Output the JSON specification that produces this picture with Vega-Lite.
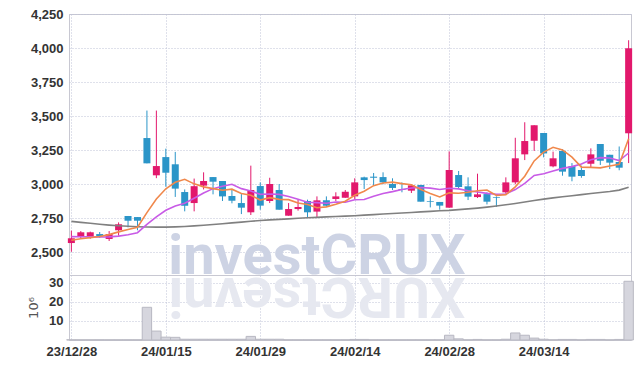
{
  "$schema": "https://vega.github.io/schema/vega-lite/v6.json",
  "padding": {"left": 27, "top": 7, "right": 5, "bottom": 2},
  "spacing": 0,
  "bounds": "flush",
  "background": "white",
  "datasets": {
    "k": [
      {"d":"23/12/28","o":2566,"h":2657,"l":2502,"c":2601,"v":0.1,"m5":2586,"m10":2613,"mL":2725},
      {"d":"24/01/02","o":2610,"h":2654,"l":2601,"c":2645,"v":0.1,"m5":2597,"m10":2612,"mL":2718},
      {"d":"24/01/03","o":2610,"h":2650,"l":2598,"c":2645,"v":0.1,"m5":2606,"m10":2611,"mL":2711},
      {"d":"24/01/04","o":2632,"h":2647,"l":2604,"c":2615,"v":0.1,"m5":2614,"m10":2610,"mL":2704},
      {"d":"24/01/05","o":2596,"h":2654,"l":2581,"c":2632,"v":0.1,"m5":2628,"m10":2611,"mL":2698},
      {"d":"24/01/08","o":2660,"h":2718,"l":2620,"c":2704,"v":0.1,"m5":2648,"m10":2617,"mL":2693},
      {"d":"24/01/09","o":2765,"h":2765,"l":2681,"c":2730,"v":0.1,"m5":2665,"m10":2627,"mL":2689},
      {"d":"24/01/10","o":2757,"h":2757,"l":2660,"c":2730,"v":0.1,"m5":2682,"m10":2642,"mL":2686},
      {"d":"24/01/11","o":3338,"h":3540,"l":3152,"c":3152,"v":17.2,"m5":2790,"m10":2703,"mL":2684},
      {"d":"24/01/12","o":3064,"h":3540,"l":3043,"c":3132,"v":4.7,"m5":2890,"m10":2759,"mL":2683},
      {"d":"24/01/15","o":3198,"h":3260,"l":2980,"c":3083,"v":1.5,"m5":2965,"m10":2807,"mL":2683},
      {"d":"24/01/16","o":3145,"h":3236,"l":2905,"c":2966,"v":1.4,"m5":3013,"m10":2839,"mL":2685},
      {"d":"24/01/17","o":2941,"h":2960,"l":2799,"c":2840,"v":0.4,"m5":3035,"m10":2858,"mL":2688},
      {"d":"24/01/18","o":2860,"h":3040,"l":2799,"c":2984,"v":0.4,"m5":3001,"m10":2895,"mL":2692},
      {"d":"24/01/19","o":2988,"h":3086,"l":2960,"c":3022,"v":0.4,"m5":2979,"m10":2934,"mL":2697},
      {"d":"24/01/22","o":3051,"h":3051,"l":2924,"c":3017,"v":0.4,"m5":2966,"m10":2966,"mL":2702},
      {"d":"24/01/23","o":3022,"h":3022,"l":2875,"c":2909,"v":0.4,"m5":2954,"m10":2984,"mL":2708},
      {"d":"24/01/24","o":2912,"h":2963,"l":2858,"c":2877,"v":0.4,"m5":2962,"m10":2998,"mL":2714},
      {"d":"24/01/25","o":2860,"h":2926,"l":2779,"c":2826,"v":0.4,"m5":2930,"m10":2966,"mL":2720},
      {"d":"24/01/26","o":2792,"h":3135,"l":2772,"c":2956,"v":1.9,"m5":2917,"m10":2948,"mL":2726},
      {"d":"24/01/29","o":2985,"h":3012,"l":2811,"c":2841,"v":0.4,"m5":2882,"m10":2924,"mL":2732},
      {"d":"24/01/30","o":2875,"h":3046,"l":2860,"c":3000,"v":0.4,"m5":2900,"m10":2927,"mL":2736},
      {"d":"24/01/31","o":2956,"h":3000,"l":2811,"c":2811,"v":0.4,"m5":2887,"m10":2924,"mL":2740},
      {"d":"24/02/01","o":2767,"h":2860,"l":2767,"c":2816,"v":0.1,"m5":2885,"m10":2908,"mL":2744},
      {"d":"24/02/02","o":2816,"h":2885,"l":2804,"c":2831,"v":0.1,"m5":2860,"m10":2888,"mL":2748},
      {"d":"24/02/05","o":2875,"h":2885,"l":2752,"c":2792,"v":0.1,"m5":2850,"m10":2866,"mL":2752},
      {"d":"24/02/06","o":2797,"h":2909,"l":2757,"c":2880,"v":0.1,"m5":2826,"m10":2863,"mL":2755},
      {"d":"24/02/07","o":2880,"h":2909,"l":2831,"c":2841,"v":0.1,"m5":2832,"m10":2859,"mL":2758},
      {"d":"24/02/08","o":2890,"h":2939,"l":2875,"c":2909,"v":0.1,"m5":2851,"m10":2868,"mL":2761},
      {"d":"24/02/13","o":2899,"h":2956,"l":2899,"c":2943,"v":0.1,"m5":2873,"m10":2866,"mL":2764},
      {"d":"24/02/14","o":2909,"h":3042,"l":2890,"c":3012,"v":0.3,"m5":2917,"m10":2884,"mL":2767},
      {"d":"24/02/15","o":3049,"h":3054,"l":2963,"c":3029,"v":0.3,"m5":2947,"m10":2886,"mL":2771},
      {"d":"24/02/16","o":3054,"h":3081,"l":2988,"c":3046,"v":0.1,"m5":2988,"m10":2910,"mL":2775},
      {"d":"24/02/19","o":3051,"h":3086,"l":2998,"c":3012,"v":0.1,"m5":3008,"m10":2930,"mL":2779},
      {"d":"24/02/20","o":3000,"h":3042,"l":2956,"c":2971,"v":0.1,"m5":3014,"m10":2944,"mL":2783},
      {"d":"24/02/21","o":2963,"h":3012,"l":2939,"c":2956,"v":0.1,"m5":3003,"m10":2960,"mL":2787},
      {"d":"24/02/22","o":2951,"h":2990,"l":2934,"c":2990,"v":0.1,"m5":2995,"m10":2971,"mL":2791},
      {"d":"24/02/23","o":2993,"h":2993,"l":2870,"c":2870,"v":0.1,"m5":2960,"m10":2974,"mL":2795},
      {"d":"24/02/26","o":2875,"h":2909,"l":2828,"c":2870,"v":0.1,"m5":2931,"m10":2970,"mL":2799},
      {"d":"24/02/27","o":2868,"h":2868,"l":2811,"c":2841,"v":0.1,"m5":2905,"m10":2960,"mL":2803},
      {"d":"24/02/28","o":2826,"h":3240,"l":2826,"c":3103,"v":2.5,"m5":2935,"m10":2969,"mL":2806},
      {"d":"24/02/29","o":3066,"h":3096,"l":2963,"c":2978,"v":0.6,"m5":2932,"m10":2964,"mL":2812},
      {"d":"24/03/04","o":2983,"h":3049,"l":2882,"c":2907,"v":0.1,"m5":2940,"m10":2950,"mL":2817},
      {"d":"24/03/05","o":2904,"h":3076,"l":2897,"c":2924,"v":0.3,"m5":2951,"m10":2941,"mL":2823},
      {"d":"24/03/06","o":2926,"h":2939,"l":2850,"c":2870,"v":0.1,"m5":2956,"m10":2931,"mL":2830},
      {"d":"24/03/07","o":2904,"h":2909,"l":2831,"c":2899,"v":0.1,"m5":2916,"m10":2925,"mL":2838},
      {"d":"24/03/08","o":2939,"h":3049,"l":2929,"c":3012,"v":0.4,"m5":2922,"m10":2927,"mL":2847},
      {"d":"24/03/11","o":3012,"h":3340,"l":2998,"c":3189,"v":3.7,"m5":2979,"m10":2959,"mL":2857},
      {"d":"24/03/12","o":3218,"h":3454,"l":3176,"c":3316,"v":2.5,"m5":3057,"m10":3004,"mL":2868},
      {"d":"24/03/13","o":3318,"h":3432,"l":3243,"c":3432,"v":1.0,"m5":3170,"m10":3063,"mL":2879},
      {"d":"24/03/14","o":3375,"h":3375,"l":3196,"c":3225,"v":0.4,"m5":3235,"m10":3075,"mL":2889},
      {"d":"24/03/15","o":3130,"h":3238,"l":3123,"c":3189,"v":0.1,"m5":3270,"m10":3096,"mL":2898},
      {"d":"24/03/18","o":3243,"h":3257,"l":3061,"c":3091,"v":0.3,"m5":3251,"m10":3115,"mL":2906},
      {"d":"24/03/19","o":3132,"h":3154,"l":3020,"c":3054,"v":0.3,"m5":3198,"m10":3128,"mL":2914},
      {"d":"24/03/20","o":3103,"h":3135,"l":3046,"c":3059,"v":0.1,"m5":3124,"m10":3147,"mL":2922},
      {"d":"24/03/21","o":3149,"h":3262,"l":3125,"c":3218,"v":0.3,"m5":3122,"m10":3179,"mL":2930},
      {"d":"24/03/22","o":3294,"h":3294,"l":3140,"c":3171,"v":0.3,"m5":3119,"m10":3194,"mL":2937},
      {"d":"24/03/25","o":3215,"h":3215,"l":3110,"c":3157,"v":0.1,"m5":3132,"m10":3191,"mL":2945},
      {"d":"24/03/26","o":3162,"h":3276,"l":3101,"c":3120,"v":0.3,"m5":3145,"m10":3172,"mL":2955},
      {"d":"24/03/27","o":3373,"h":4057,"l":3154,"c":3998,"v":30.9,"m5":3333,"m10":3228,"mL":2976}
    ],
    "wm": [{"d":"24/02/06","t":"investCRUX","r":"XURCtsevni"}]
  },
  "config": {
    "view": {"stroke": "#c8c8d2"},
    "axis": {
      "labelFont": "Liberation Sans",
      "labelFontSize": 13,
      "labelFontWeight": "bold",
      "labelColor": "#333333",
      "labelOverlap": false,
      "gridColor": "#bfc3d6",
      "gridDash": [1, 2],
      "ticks": false,
      "domain": false,
      "labelPadding": 6
    }
  },
  "vconcat": [
    {
      "width": 562,
      "height": 261,
      "data": {"name": "k"},
      "encoding": {
        "x": {
          "field": "d", "type": "ordinal",
          "scale": {"type": "point", "padding": 0.25},
          "axis": {"values": ["23/12/28","24/01/15","24/01/29","24/02/14","24/02/28","24/03/14"], "labels": false, "title": null, "grid": true}
        }
      },
      "layer": [
        {
          "data": {"name": "wm"},
          "mark": {"type": "text", "font": "Roboto", "fontWeight": "bold", "fontSize": 56, "color": "#cdd3e4", "baseline": "alphabetic", "align": "center"},
          "encoding": {
            "text": {"field": "t"},
            "y": {"datum": 2335, "type": "quantitative",
              "scale": {"domain": [2331, 4250], "nice": false, "zero": false},
              "axis": {"values": [2500, 2750, 3000, 3250, 3500, 3750, 4000, 4250], "format": ",.0f", "title": null, "grid": true, "labelOverlap": false, "labelFlush": false}}
          }
        },
        {
          "mark": {"type": "rule", "strokeWidth": 1},
          "encoding": {
            "y": {"field": "l", "type": "quantitative",
              "axis": {"values": [2500, 2750, 3000, 3250, 3500, 3750, 4000, 4250], "format": ",.0f", "title": null, "grid": true, "labelOverlap": false, "labelFlush": false}},
            "y2": {"field": "h"},
            "color": {"condition": {"test": "datum.c >= datum.o", "value": "#e2186c"}, "value": "#2b95c8"}
          }
        },
        {
          "mark": {"type": "bar", "width": 7},
          "encoding": {
            "y": {"field": "o", "type": "quantitative",
              "axis": {"values": [2500, 2750, 3000, 3250, 3500, 3750, 4000, 4250], "format": ",.0f", "title": null, "grid": true, "labelOverlap": false, "labelFlush": false}},
            "y2": {"field": "c"},
            "color": {"condition": {"test": "datum.c >= datum.o", "value": "#e2186c"}, "value": "#2b95c8"}
          }
        },
        {
          "mark": {"type": "line", "color": "#808080", "strokeWidth": 1.6},
          "encoding": {"y": {"field": "mL", "type": "quantitative",
              "axis": {"values": [2500, 2750, 3000, 3250, 3500, 3750, 4000, 4250], "format": ",.0f", "title": null, "grid": true, "labelOverlap": false, "labelFlush": false}}}
        },
        {
          "mark": {"type": "line", "color": "#c85be6", "strokeWidth": 1.6},
          "encoding": {"y": {"field": "m10", "type": "quantitative",
              "axis": {"values": [2500, 2750, 3000, 3250, 3500, 3750, 4000, 4250], "format": ",.0f", "title": null, "grid": true, "labelOverlap": false, "labelFlush": false}}}
        },
        {
          "mark": {"type": "line", "color": "#f0884c", "strokeWidth": 1.6},
          "encoding": {"y": {"field": "m5", "type": "quantitative",
              "axis": {"values": [2500, 2750, 3000, 3250, 3500, 3750, 4000, 4250], "format": ",.0f", "title": null, "grid": true, "labelOverlap": false, "labelFlush": false}}}
        }
      ]
    },
    {
      "width": 562,
      "height": 65,
      "data": {"name": "k"},
      "encoding": {
        "x": {
          "field": "d", "type": "ordinal",
          "scale": {"type": "point", "padding": 0.25},
          "axis": {"values": ["23/12/28","24/01/15","24/01/29","24/02/14","24/02/28","24/03/14"], "labelAngle": 0, "labelPadding": 5, "title": null, "grid": true}
        }
      },
      "layer": [
        {
          "data": {"name": "wm"},
          "mark": {"type": "text", "font": "Roboto", "fontWeight": "bold", "fontSize": 56, "color": "#e6e8f0", "baseline": "alphabetic", "align": "center", "angle": 180},
          "encoding": {
            "text": {"field": "r"},
            "y": {"datum": 32.5, "type": "quantitative",
              "scale": {"domain": [0, 34.2], "nice": false},
              "axis": {"values": [10, 20, 30], "title": "10⁶", "titleFont": "DejaVu Sans", "titleFontWeight": "normal", "titleFontSize": 13, "titleColor": "#555555", "titlePadding": 8, "grid": true, "labelFlush": false, "labelOverlap": false}}
          }
        },
        {
          "mark": {"type": "bar", "width": 9.4, "fill": "#d6d6de", "stroke": "#b8b8c2", "strokeWidth": 1},
          "encoding": {
            "y": {"field": "v", "type": "quantitative",
              "axis": {"values": [10, 20, 30], "title": "10⁶", "titleFont": "DejaVu Sans", "titleFontWeight": "normal", "titleFontSize": 13, "titleColor": "#555555", "titlePadding": 8, "grid": true, "labelFlush": false, "labelOverlap": false}}
          }
        }
      ]
    }
  ]
}
